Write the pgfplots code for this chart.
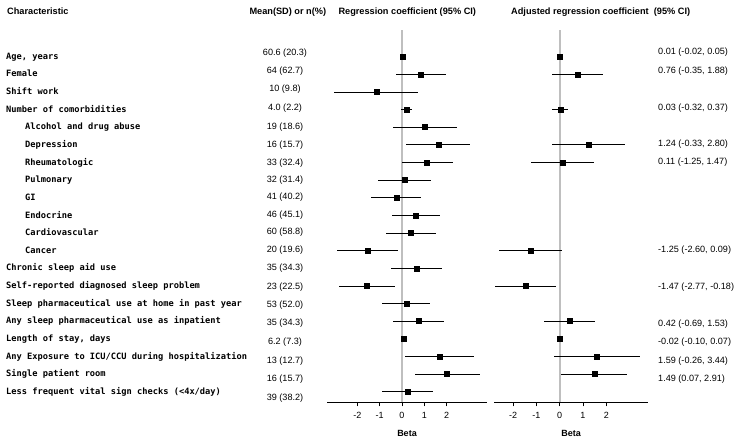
\documentclass[border=0pt]{standalone}
\usepackage{fontspec}
\setmainfont{Liberation Sans}
\newfontfamily\labelfont{DejaVu Sans Mono}
\usepackage{pgfplots}
\usepackage{pgfplotstable}
\pgfplotsset{compat=1.18}

% unadjusted estimates
\pgfplotstableread{
r est lo hi
1 0.02 -0.01 0.04
2 0.85 -0.27 1.96
3 -1.15 -3.03 0.70
4 0.21 -0.03 0.46
5 1.00 -0.42 2.45
6 1.63 0.19 3.07
7 1.12 0.01 2.27
8 0.12 -1.07 1.30
9 -0.25 -1.39 0.85
10 0.61 -0.46 1.70
11 0.37 -0.70 1.51
12 -1.54 -2.90 -0.18
13 0.66 -0.49 1.81
14 -1.58 -2.84 -0.30
15 0.19 -0.90 1.27
16 0.73 -0.40 1.87
17 0.09 0.02 0.16
18 1.67 0.15 3.25
19 2.01 0.60 3.48
20 0.24 -0.88 1.37
}\unadj

% adjusted estimates
\pgfplotstableread{
r est lo hi
1 0.01 -0.02 0.05
2 0.76 -0.35 1.88
4 0.03 -0.32 0.37
6 1.24 -0.33 2.80
7 0.11 -1.25 1.47
12 -1.25 -2.60 0.09
14 -1.47 -2.77 -0.18
16 0.42 -0.69 1.53
17 -0.02 -0.10 0.07
18 1.59 -0.26 3.44
19 1.49 0.07 2.91
}\adj

\pgfplotsset{forest/.style={
  scale only axis, height=372.3pt, anchor=south west,
  y dir=reverse, ymin=-0.51, ymax=20.6,
  axis x line*=bottom, axis y line=none, ytick=\empty,
  xtick={-2,-1,0,1,2}, xticklabels={-2,-1,0,1,2},
  tick align=outside, major tick length=4pt,
  x axis line style={black, line width=0.6pt},
  xtick style={black, line width=0.6pt},
  xticklabel style={font=\fontsize{9}{10}\selectfont, yshift=-2pt},
  xlabel={\bfseries Beta},
  xlabel style={font=\fontsize{9}{10}\selectfont, at={(axis description cs:0.5,0)}, anchor=mid, yshift=-31.5pt},
  clip=false,
}}

\newcommand{\lab}[3]{\node[anchor=mid west, font=\labelfont\bfseries\fontsize{8.7}{10}\selectfont] at (#1,{56.7+17.63*(#2-1)}) {#3};}
\newcommand{\val}[2]{\node[anchor=mid] at (285,#1) {#2};}
\newcommand{\ci}[2]{\node[anchor=mid west] at (658,#1) {#2};}

\begin{document}
\begin{tikzpicture}
\useasboundingbox (0,0) rectangle (746pt,-440pt);

\begin{axis}[forest, at={(327.3pt,-402.3pt)}, width=159.4pt, xmin=-3.35, xmax=3.80]
\addplot[draw=black!25, line width=1.6pt, forget plot] coordinates {(0,-0.51) (0,20.6)};
\addplot[only marks, mark=square*, mark size=2.5pt, black,
  error bars/.cd, x dir=both, x explicit, error mark=none,
  error bar style={line width=0.75pt, black}]
  table[x=est, y=r, x error plus expr=\thisrow{hi}-\thisrow{est}, x error minus expr=\thisrow{est}-\thisrow{lo}] {\unadj};
\end{axis}

\begin{axis}[forest, at={(494.3pt,-402.3pt)}, width=153.4pt, xmin=-2.81, xmax=3.78]
\addplot[draw=black!25, line width=1.6pt, forget plot] coordinates {(0,-0.51) (0,20.6)};
\addplot[only marks, mark=square*, mark size=2.5pt, black,
  error bars/.cd, x dir=both, x explicit, error mark=none,
  error bar style={line width=0.75pt, black}]
  table[x=est, y=r, x error plus expr=\thisrow{hi}-\thisrow{est}, x error minus expr=\thisrow{est}-\thisrow{lo}] {\adj};
\end{axis}

\begin{scope}[x=1pt, y=-1pt, every node/.style={inner sep=0pt, font=\fontsize{9.1}{11}\selectfont}]
\begin{scope}[every node/.append style={anchor=mid west, font=\bfseries\fontsize{9.2}{11}\selectfont}]
\node at (7,12.3) {Characteristic};
\node at (249.3,12.3) {Mean(SD) or n(\%)};
\node at (338.3,12.3) {Regression coefficient (95\% CI)};
\node at (511,12.3) {Adjusted regression coefficient\ \ (95\% CI)};
\end{scope}

\lab{6}{1}{Age, years}
\lab{6}{2}{Female}
\lab{6}{3}{Shift work}
\lab{6}{4}{Number of comorbidities}
\lab{25}{5}{Alcohol and drug abuse}
\lab{25}{6}{Depression}
\lab{25}{7}{Rheumatologic}
\lab{25}{8}{Pulmonary}
\lab{25}{9}{GI}
\lab{25}{10}{Endocrine}
\lab{25}{11}{Cardiovascular}
\lab{25}{12}{Cancer}
\lab{6}{13}{Chronic sleep aid use}
\lab{6}{14}{Self-reported diagnosed sleep problem}
\lab{6}{15}{Sleep pharmaceutical use at home in past year}
\lab{6}{16}{Any sleep pharmaceutical use as inpatient}
\lab{6}{17}{Length of stay, days}
\lab{6}{18}{Any Exposure to ICU/CCU during hospitalization}
\lab{6}{19}{Single patient room}
\lab{6}{20}{Less frequent vital sign checks (<4x/day)}

\val{53.3}{60.6 (20.3)}
\val{70.7}{64 (62.7)}
\val{89.3}{10 (9.8)}
\val{108.3}{4.0 (2.2)}
\val{126.7}{19 (18.6)}
\val{145}{16 (15.7)}
\val{162.7}{33 (32.4)}
\val{180}{32 (31.4)}
\val{197.3}{41 (40.2)}
\val{215}{46 (45.1)}
\val{232.3}{60 (58.8)}
\val{250}{20 (19.6)}
\val{268.3}{35 (34.3)}
\val{286.7}{23 (22.5)}
\val{305}{53 (52.0)}
\val{323.3}{35 (34.3)}
\val{342.3}{6.2 (7.3)}
\val{360.7}{13 (12.7)}
\val{379}{16 (15.7)}
\val{398.3}{39 (38.2)}

\ci{52.3}{0.01 (-0.02, 0.05)}
\ci{70.7}{0.76 (-0.35, 1.88)}
\ci{108.3}{0.03 (-0.32, 0.37)}
\ci{144.3}{1.24 (-0.33, 2.80)}
\ci{162.3}{0.11 (-1.25, 1.47)}
\ci{250}{-1.25 (-2.60, 0.09)}
\ci{287.3}{-1.47 (-2.77, -0.18)}
\ci{324}{0.42 (-0.69, 1.53)}
\ci{342.3}{-0.02 (-0.10, 0.07)}
\ci{360.7}{1.59 (-0.26, 3.44)}
\ci{379}{1.49 (0.07, 2.91)}
\end{scope}
\end{tikzpicture}
\end{document}
